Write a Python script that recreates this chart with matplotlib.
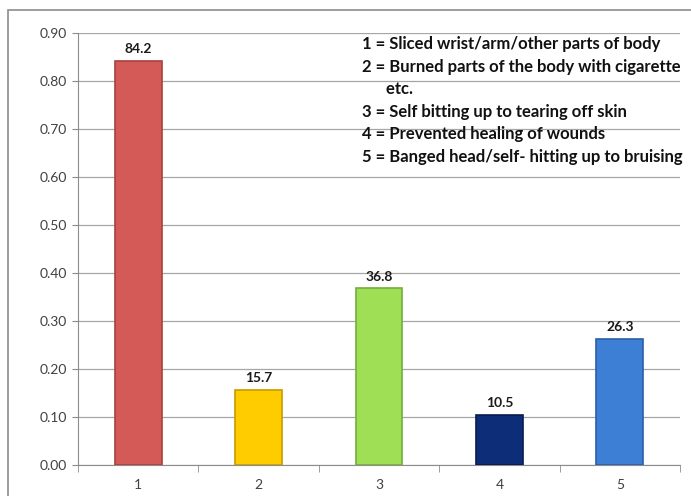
import matplotlib.pyplot as plt
import numpy as np

# Dados do gráfico
categorias = ['1', '2', '3', '4', '5']
valores = [0.842, 0.157, 0.368, 0.105, 0.263]
rotulos = ['84.2', '15.7', '36.8', '10.5', '26.3']
cores = ['#D45A57', '#FFCC00', '#9EDF55', '#0E2D78', '#3D7FD4']
bordas = ['#A8403D', '#C89A00', '#74AE38', '#081C50', '#2A5FA8']
legenda = ['1 = Sliced wrist/arm/other parts of body',
           '2 = Burned parts of the body with cigarette',
           '      etc.',
           '3 = Self bitting up to tearing off skin',
           '4 = Prevented healing of wounds',
           '5 = Banged head/self- hitting up to bruising']

plt.rcParams['font.family'] = ['Lato', 'DejaVu Sans']

fig = plt.figure(figsize=(6.91, 4.96), dpi=100)
# Moldura externa do gráfico
fig.patches.append(plt.Rectangle((8 / 691, -0.01), 0.99, 1 - 10 / 496 + 0.01,
                                 transform=fig.transFigure, fill=False,
                                 edgecolor='#8C8C8C', linewidth=1.2))

ax = fig.add_axes([78 / 691, 1 - 465 / 496, (680 - 78) / 691, (465 - 33) / 496])

x = np.arange(len(categorias))
ax.bar(x, valores, width=0.39, color=cores, edgecolor=bordas, linewidth=1.2, zorder=3)

for xi, v, r in zip(x, valores, rotulos):
    ax.text(xi, v + 0.012, r, ha='center', va='bottom', fontsize=10,
            fontweight='bold', color='#1A1A1A', zorder=4)

ax.set_xlim(-0.5, 4.5)
ax.set_ylim(0, 0.90)
ax.set_yticks(np.arange(0, 0.91, 0.10))
ax.set_yticklabels([f'{t:.2f}' for t in np.arange(0, 0.91, 0.10)])
ax.set_xticks(x)
ax.set_xticklabels(categorias)
ax.set_xticks(np.arange(-0.5, 5, 1), minor=True)

ax.grid(axis='y', color='#A6A6A6', linewidth=0.9, zorder=0)
ax.tick_params(axis='y', length=4, color='#8C8C8C', labelsize=10, labelcolor='#404040', pad=4)
ax.tick_params(axis='x', which='major', length=0, labelsize=10, labelcolor='#404040', pad=10)
ax.tick_params(axis='x', which='minor', length=5, color='#8C8C8C')

for lado in ['top', 'right']:
    ax.spines[lado].set_visible(False)
ax.spines['left'].set_color('#8C8C8C')
ax.spines['bottom'].set_color('#8C8C8C')

# Legenda em texto
y0 = 44
for i, linha in enumerate(legenda):
    fig.text(362 / 691, 1 - (y0 + i * 22.6) / 496, linha, ha='left', va='center',
             fontsize=12, fontweight='bold', color='#111111')

fig.savefig('out.png', dpi=100)
